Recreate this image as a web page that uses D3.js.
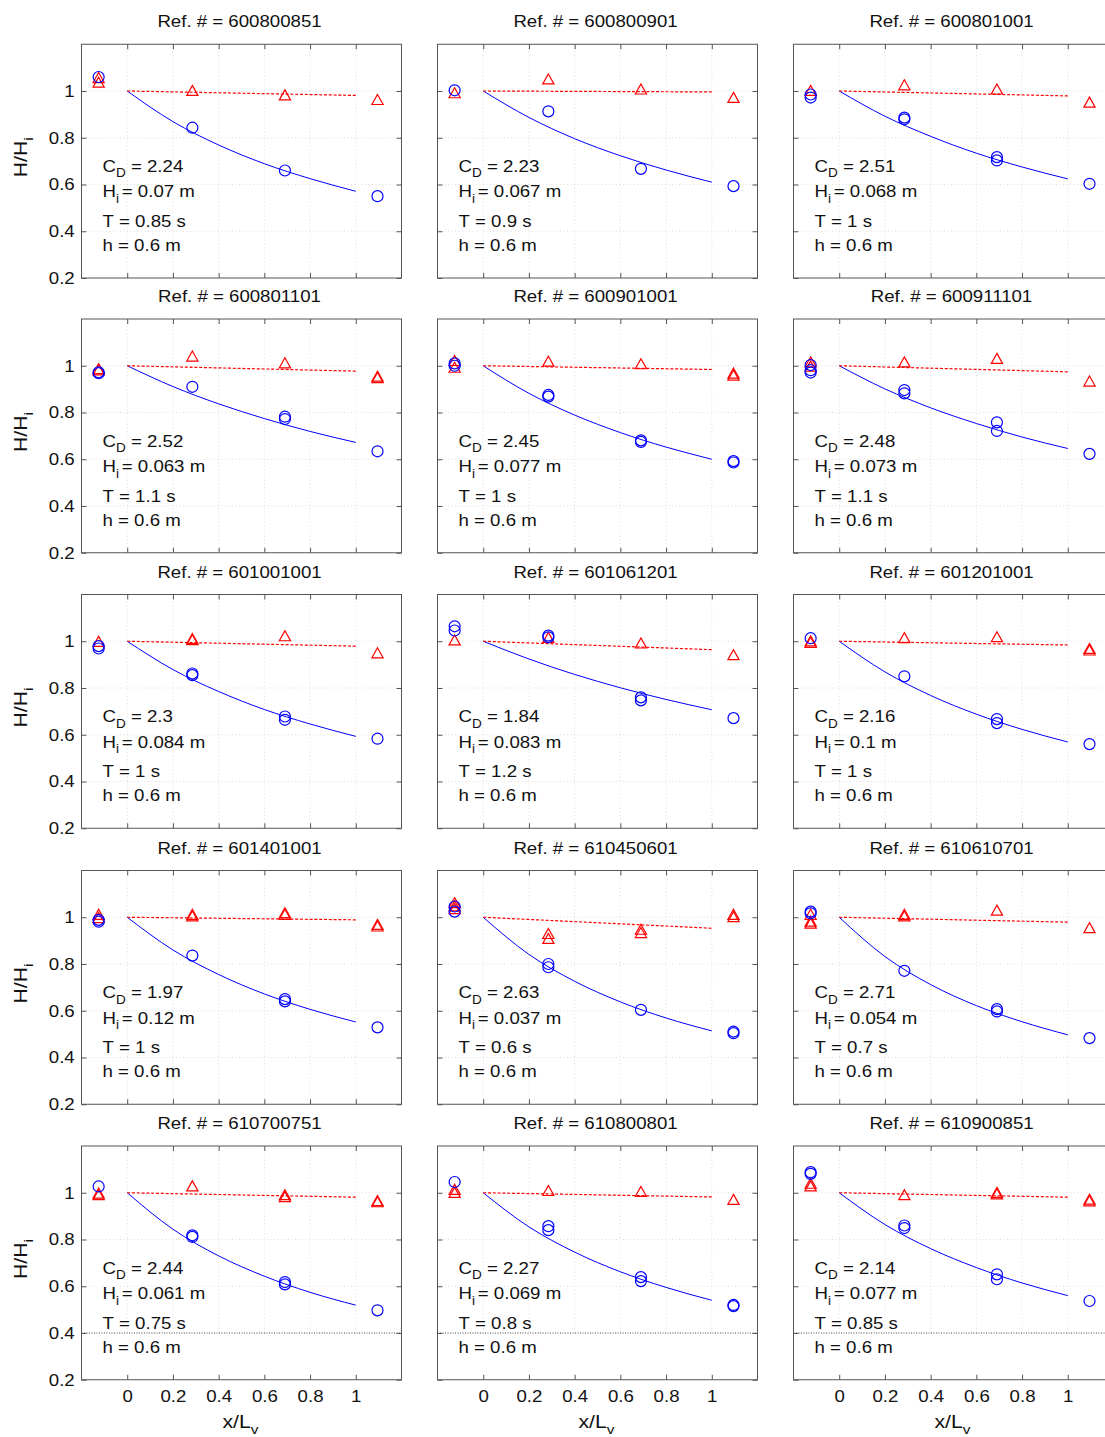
<!DOCTYPE html>
<html><head><meta charset="utf-8">
<script src="https://cdn.jsdelivr.net/npm/d3@7"></script>
<style>body{margin:0;background:#fff}svg{display:block}</style>
</head><body><svg id="c" width="1105" height="1437"></svg>
<script>
// ---------------- data ----------------
const refNums = ["600800851","600800901","600801001","600801101","600901001","600911101",
  "601001001","601061201","601201001","601401001","610450601","610610701",
  "610700751","610800801","610900851"];
const cdVals = ["2.24","2.23","2.51","2.52","2.45","2.48","2.3","1.84","2.16","1.97","2.63","2.71","2.44","2.27","2.14"];
const hiVals = ["0.07","0.067","0.068","0.063","0.077","0.073","0.084","0.083","0.1","0.12","0.037","0.054","0.061","0.069","0.077"];
const tVals  = ["0.85","0.9","1","1.1","1","1.1","1","1.2","1","1","0.6","0.7","0.75","0.8","0.85"];
const hVals  = ["0.6","0.6","0.6","0.6","0.6","0.6","0.6","0.6","0.6","0.6","0.6","0.6","0.6","0.6","0.6"];

const gaugeX = [-0.125, 0.285, 0.69, 1.095];   // measurement stations x/Lv

// measured H/Hi, vegetation (blue circles), per gauge
const blueObs = [
  [[1.06],[0.843],[0.66],[0.55]],
  [[1.003],[0.913],[0.667],[0.593]],
  [[0.985,0.972],[0.886,0.879],[0.717,0.703],[0.603]],
  [[0.972,0.968],[0.91],[0.782,0.772],[0.634]],
  [[1.01,1.0],[0.875,0.868],[0.681,0.674],[0.592,0.586]],
  [[1.003,0.981,0.971],[0.896,0.882],[0.758,0.721],[0.623]],
  [[0.979,0.969],[0.862,0.855],[0.678,0.664],[0.583]],
  [[1.064,1.046],[1.024,1.017],[0.76,0.747],[0.671]],
  [[1.013],[0.85],[0.667,0.65],[0.56]],
  [[0.989,0.981],[0.836],[0.65,0.64],[0.529]],
  [[1.046,1.024],[0.8,0.786],[0.604],[0.511,0.504]],
  [[1.024,1.017],[0.771],[0.607,0.597],[0.483]],
  [[1.027],[0.818,0.811],[0.618,0.608],[0.497]],
  [[1.046],[0.857,0.84],[0.639,0.622],[0.52,0.515]],
  [[1.088,1.081],[0.86,0.849],[0.651,0.63],[0.537]]
];
// measured H/Hi, no vegetation (red triangles)
const redObs = [
  [[1.035,1.055],[1.0],[0.981],[0.961]],
  [[0.99],[1.049],[1.006],[0.97]],
  [[1.0],[1.024],[1.006],[0.95]],
  [[0.985,0.98],[1.039],[1.01],[0.953,0.947]],
  [[1.02,0.991],[1.017],[1.006],[0.966,0.957]],
  [[1.014,0.996],[1.014],[1.029],[0.932]],
  [[0.997],[1.009,1.004],[1.021],[0.948]],
  [[1.003],[1.014],[0.99],[0.94]],
  [[0.999,0.993],[1.013],[1.017],[0.967,0.96]],
  [[1.01,0.996],[1.01,1.003],[1.017,1.01],[0.967,0.96]],
  [[1.06,1.046,1.034],[0.928,0.907],[0.946,0.932],[1.01,1.0]],
  [[1.01,0.981,0.972],[1.01,1.003],[1.028],[0.953]],
  [[0.996,0.989],[1.027],[0.989,0.981],[0.964,0.959]],
  [[1.012,0.999],[1.007],[1.003],[0.969]],
  [[1.038,1.027],[0.989],[0.999,0.993],[0.97,0.963]]
];

// fitted curves
const fitX = [0, 0.2, 0.4, 0.6, 0.8, 1.0];
const fitBlue = [
  [1,0.869,0.769,0.689,0.625,0.571],
  [1,0.887,0.796,0.723,0.662,0.610],
  [1,0.892,0.806,0.734,0.675,0.624],
  [1,0.911,0.837,0.774,0.719,0.672],
  [1,0.882,0.789,0.714,0.652,0.600],
  [1,0.901,0.820,0.753,0.695,0.646],
  [1,0.879,0.785,0.708,0.646,0.593],
  [1,0.924,0.858,0.801,0.751,0.707],
  [1,0.869,0.768,0.688,0.623,0.569],
  [1,0.860,0.755,0.672,0.606,0.552],
  [1,0.841,0.726,0.638,0.569,0.514],
  [1,0.832,0.712,0.622,0.553,0.497],
  [1,0.844,0.730,0.643,0.574,0.519],
  [1,0.854,0.746,0.662,0.595,0.540],
  [1,0.864,0.761,0.680,0.614,0.560]
];
const fitRedX = [0, 1];
const fitRed = [
  [1,0.981],[1,0.996],[1,0.979],[1,0.977],[1,0.984],[1,0.974],[1,0.979],[1,0.964],
  [1,0.984],[1,0.989],[1,0.953],[1,0.979],[1,0.981],[1,0.982],[1,0.981]
];

const xTicks = [0, 0.2, 0.4, 0.6, 0.8, 1];
const yTicks = [0.2, 0.4, 0.6, 0.8, 1];
const xTickLabels = ["0","0.2","0.4","0.6","0.8","1"];
const yTickLabels = ["0.2","0.4","0.6","0.8","1"];

// ---------------- layout ----------------
const svg = d3.select("#c");
const colLeft = [81.5, 437.5, 793.5];
const rowTop = [44.25, 319, 594.5, 870.5, 1146];
const PW = 320, PH = 233.75;
const FONT = "'Liberation Sans', Arial, Helvetica, sans-serif";
const SX = 1.13;       // horizontal glyph stretch
const AX = "#555";
const BLUE = "#0000ff", RED = "#ff0000";

svg.append("rect").attr("width",1105).attr("height",1437).attr("fill","#fff");

const x = d3.scaleLinear().domain([-0.2, 1.2]).range([0, PW]);
const y = d3.scaleLinear().domain([0.2, 1.2]).range([PH, 0]);

const triPath = "M0,-5.6L5.6,4.4L-5.6,4.4Z";

refNums.forEach((ref, i) => {
  const col = i % 3, row = Math.floor(i / 3);
  const g = svg.append("g").attr("transform", `translate(${colLeft[col]},${rowTop[row]})`);
  const bottomRow = row === 4;
  const gridFloor = bottomRow ? 0.4 : 0.2;

  // grid
  const grid = g.append("g").attr("stroke", "#d6d6d6").attr("stroke-width", 0.8)
    .attr("stroke-dasharray", "1,2.5");
  xTicks.forEach(t => grid.append("line").attr("x1", x(t)).attr("x2", x(t))
    .attr("y1", 0).attr("y2", y(gridFloor)));
  yTicks.filter(t => t > 0.2).forEach(t => grid.append("line")
    .attr("x1", 0).attr("x2", PW).attr("y1", y(t)).attr("y2", y(t)));
  if (bottomRow) {
    g.append("line").attr("x1", 0).attr("x2", PW).attr("y1", y(0.4)).attr("y2", y(0.4))
      .attr("stroke", "#444").attr("stroke-width", 0.9).attr("stroke-dasharray", "1,1.5");
  }

  // axes (inside ticks, box)
  const axB = d3.axisBottom(x).tickValues(xTicks).tickSize(-5).tickPadding(11)
    .tickFormat((d, k) => bottomRow ? xTickLabels[k] : "");
  const axT = d3.axisTop(x).tickValues(xTicks).tickSize(-5).tickFormat("");
  const axL = d3.axisLeft(y).tickValues(yTicks).tickSize(-5).tickPadding(6)
    .tickFormat((d, k) => col === 0 ? yTickLabels[k] : "");
  const axR = d3.axisRight(y).tickValues(yTicks).tickSize(-5).tickFormat("");
  [[axB, `translate(0,${PH})`], [axT, "translate(0,0)"], [axL, "translate(0,0)"], [axR, `translate(${PW},0)`]]
    .forEach(([ax, tr]) => {
      const a = g.append("g").attr("transform", tr).call(ax);
      a.select(".domain").remove();
      a.selectAll("line").attr("stroke", AX);
      a.selectAll("text").attr("font-family", FONT).attr("font-size", 16.5).attr("fill", "#111")
        .attr("transform", `scale(${SX},1)`);
    });
  g.append("rect").attr("width", PW).attr("height", PH).attr("fill", "none")
    .attr("stroke", AX).attr("stroke-width", 1);

  // fitted lines
  const line = d3.line().x(d => x(d[0])).y(d => y(d[1]));
  g.append("path").datum(fitX.map((xx, k) => [xx, fitBlue[i][k]]))
    .attr("d", line.curve(d3.curveMonotoneX)).attr("fill", "none").attr("stroke", BLUE).attr("stroke-width", 1);
  g.append("path").datum(fitRedX.map((xx, k) => [xx, fitRed[i][k]]))
    .attr("d", d3.line().x(d => x(d[0])).y(d => y(d[1]))).attr("fill", "none").attr("stroke", RED)
    .attr("stroke-width", 1.2).attr("stroke-dasharray", "3,1.8");

  // observations
  const bpts = [], rpts = [];
  gaugeX.forEach((gx, k) => {
    blueObs[i][k].forEach(v => bpts.push([gx, v]));
    redObs[i][k].forEach(v => rpts.push([gx, v]));
  });
  g.selectAll(".tri").data(rpts).join("path").attr("class", "tri").attr("d", triPath)
    .attr("transform", d => `translate(${x(d[0])},${y(d[1])})`)
    .attr("fill", "none").attr("stroke", RED).attr("stroke-width", 1.2);
  g.selectAll(".circ").data(bpts).join("circle").attr("class", "circ")
    .attr("cx", d => x(d[0])).attr("cy", d => y(d[1])).attr("r", 5.5)
    .attr("fill", "none").attr("stroke", BLUE).attr("stroke-width", 1.2);

  // title
  g.append("text").attr("transform", `translate(${PW / 2 - 2},-17) scale(${SX},1)`)
    .attr("text-anchor", "middle").attr("font-family", FONT).attr("font-size", 16.5).attr("fill", "#111")
    .text(`Ref. # = ${ref}`);

  // annotations
  const ann = (yy, main, sub, rest, gap) => {
    const t = g.append("text").attr("transform", `translate(21,${yy}) scale(${SX},1)`)
      .attr("font-family", FONT).attr("font-size", 16.5).attr("fill", "#111");
    t.append("tspan").text(main);
    if (sub) {
      t.append("tspan").attr("font-size", 12).attr("dy", 5.5).text(sub);
      t.append("tspan").attr("dy", -5.5).attr("dx", gap).text(rest);
    } else t.append("tspan").text(rest);
  };
  ann(127.5, "C", "D", ` = ${cdVals[i]}`, 0);
  ann(153, "H", "i", `= ${hiVals[i]} m`, 2.5);
  ann(182.5, "T", null, ` = ${tVals[i]} s`, 0);
  ann(206.5, "h", null, ` = ${hVals[i]} m`, 0);

  // axis labels
  if (col === 0) {
    const t = svg.append("text")
      .attr("transform", `translate(26.5,${rowTop[row] + 113}) rotate(-90) scale(1.18,1)`)
      .attr("text-anchor", "middle").attr("font-family", FONT).attr("font-size", 18).attr("fill", "#111");
    t.append("tspan").text("H/H");
    t.append("tspan").attr("font-size", 13).attr("dy", 6).text("i");
  }
  if (bottomRow) {
    const t = svg.append("text")
      .attr("transform", `translate(${colLeft[col] + PW / 2 - 1},1428) scale(1.18,1)`)
      .attr("text-anchor", "middle").attr("font-family", FONT).attr("font-size", 18).attr("fill", "#111");
    t.append("tspan").text("x/L");
    t.append("tspan").attr("font-size", 13).attr("dy", 6).text("v");
  }
});
</script></body></html>
